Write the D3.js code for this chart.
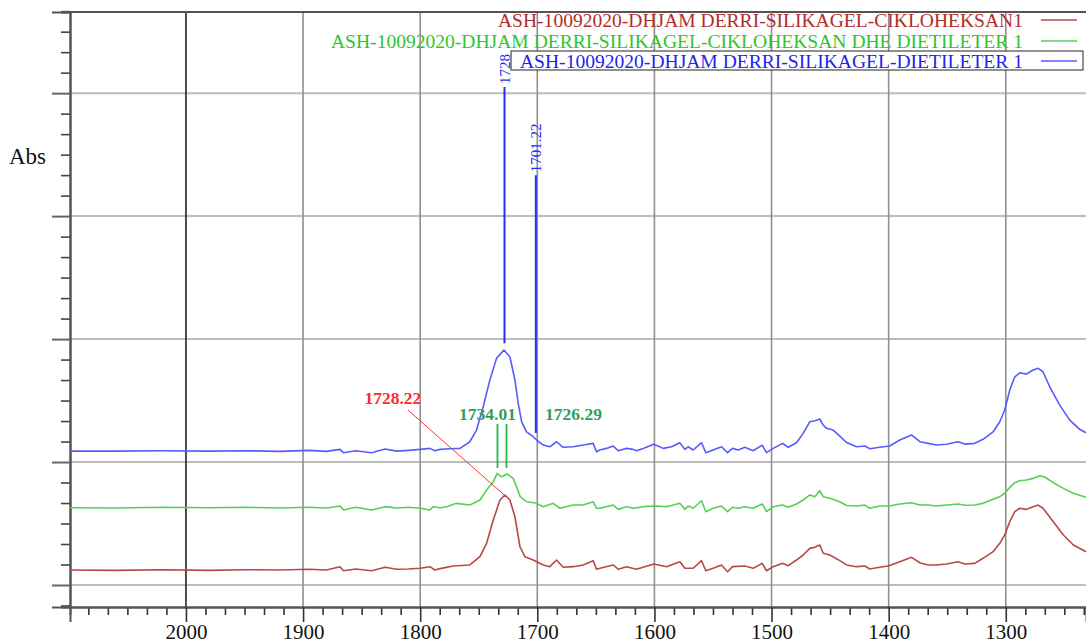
<!DOCTYPE html>
<html><head><meta charset="utf-8">
<script src="https://cdn.jsdelivr.net/npm/d3@7"></script>
<style>body{margin:0;background:#fff} svg{display:block}</style>
</head><body><svg id="c" width="1086" height="644"></svg>
<script>
// ---------- data ----------
const legendNames = [
  "ASH-10092020-DHJAM DERRI-SILIKAGEL-CIKLOHEKSAN1",
  "ASH-10092020-DHJAM DERRI-SILIKAGEL-CIKLOHEKSAN DHE DIETILETER 1",
  "ASH-10092020-DHJAM DERRI-SILIKAGEL-DIETILETER 1"
];
const xTickValues = [2000, 1900, 1800, 1700, 1600, 1500, 1400, 1300];
const xTickLabels = ["2000", "1900", "1800", "1700", "1600", "1500", "1400", "1300"];
const yMajorValues = [0, 1, 2, 3, 4];

// [wavenumber cm-1, absorbance (offset, arbitrary units)]
const redSpectrum = [
  [2099,0.122],[2060,0.119],[2020,0.124],[1980,0.119],[1950,0.124],[1920,0.122],[1895,0.128],[1880,0.122],
  [1868.5,0.149],[1865.5,0.116],[1855,0.130],[1841.5,0.116],[1830,0.144],[1820,0.128],[1810,0.130],[1800,0.136],
  [1791.7,0.149],[1787.4,0.122],[1783,0.133],[1771.8,0.154],[1757.6,0.163],[1749,0.230],[1743.3,0.339],
  [1737.6,0.528],[1731.9,0.691],[1727.6,0.732],[1723.4,0.691],[1719.1,0.555],[1714.8,0.311],[1710.6,0.230],
  [1703.5,0.203],[1694.9,0.163],[1689.3,0.149],[1683.6,0.203],[1677.9,0.144],[1669.4,0.149],[1660.8,0.163],
  [1652.3,0.198],[1649.4,0.128],[1646.6,0.136],[1635.2,0.163],[1630.9,0.128],[1623.8,0.149],[1615.3,0.128],
  [1600.5,0.171],[1589.7,0.149],[1578.3,0.189],[1574.0,0.136],[1566.9,0.136],[1559.8,0.198],[1556.1,0.116],
  [1549.9,0.136],[1542.7,0.163],[1537.6,0.108],[1533.3,0.149],[1522.8,0.154],[1515.7,0.136],[1508.0,0.176],
  [1504.3,0.116],[1498.6,0.149],[1490.6,0.176],[1485.8,0.157],[1478.7,0.203],[1473.0,0.244],[1467.3,0.298],
  [1463.0,0.307],[1458.8,0.325],[1455.9,0.258],[1450.2,0.244],[1441.7,0.198],[1436.0,0.163],[1427.4,0.149],
  [1420.3,0.154],[1416.1,0.130],[1407.6,0.144],[1400.5,0.154],[1390.5,0.189],[1380.5,0.225],[1373.4,0.181],
  [1366.3,0.163],[1359.2,0.163],[1350.6,0.171],[1340.7,0.189],[1335.0,0.171],[1326.5,0.176],[1319.4,0.217],
  [1310.8,0.271],[1305.1,0.339],[1300.9,0.407],[1296.6,0.515],[1292.3,0.596],[1288.1,0.624],[1282.4,0.615],
  [1276.7,0.637],[1272.4,0.650],[1268.2,0.624],[1259.4,0.515],[1250.8,0.407],[1242.3,0.325],[1231.5,0.271]
];
const greenSpectrum = [
  [2099,0.628],[2060,0.626],[2020,0.632],[1980,0.628],[1950,0.632],[1920,0.626],[1895,0.632],[1880,0.626],
  [1868.5,0.642],[1865.5,0.610],[1855,0.632],[1841.5,0.610],[1830,0.637],[1820,0.626],[1810,0.632],[1800,0.624],
  [1791.7,0.610],[1788.9,0.637],[1783,0.628],[1777.5,0.637],[1769,0.664],[1757.6,0.650],[1749,0.691],
  [1743.3,0.772],[1737.6,0.840],[1734.2,0.908],[1730.5,0.880],[1725.7,0.902],[1720.6,0.867],[1717.7,0.799],
  [1714.6,0.718],[1709.2,0.677],[1702.1,0.669],[1694.9,0.637],[1686.4,0.664],[1680.7,0.624],[1669.4,0.650],
  [1660.8,0.650],[1652.3,0.677],[1649.4,0.624],[1646.6,0.624],[1635.2,0.650],[1630.9,0.615],[1623.8,0.637],
  [1618.1,0.624],[1609.6,0.637],[1600.5,0.642],[1589.7,0.637],[1578.3,0.664],[1574.0,0.615],[1571.2,0.642],
  [1566.9,0.624],[1559.8,0.685],[1556.1,0.596],[1549.9,0.624],[1542.7,0.642],[1537.6,0.596],[1533.3,0.632],
  [1528.5,0.624],[1522.8,0.637],[1515.7,0.624],[1508.0,0.659],[1504.3,0.596],[1498.6,0.637],[1490.6,0.650],
  [1485.8,0.632],[1478.7,0.659],[1473.0,0.691],[1467.3,0.732],[1463.0,0.718],[1458.8,0.767],[1455.9,0.718],
  [1450.2,0.705],[1441.7,0.677],[1436.0,0.646],[1427.4,0.642],[1420.3,0.650],[1416.1,0.624],[1407.6,0.642],
  [1399.1,0.642],[1390.5,0.659],[1380.5,0.669],[1373.4,0.650],[1366.3,0.650],[1359.2,0.642],[1350.6,0.650],
  [1340.7,0.659],[1335.0,0.648],[1326.5,0.650],[1319.4,0.664],[1310.8,0.697],[1305.1,0.718],[1300.9,0.746],
  [1296.6,0.794],[1292.3,0.832],[1288.1,0.848],[1282.4,0.854],[1276.7,0.867],[1270.8,0.889],[1266.5,0.876],
  [1259.4,0.832],[1250.8,0.786],[1242.3,0.746],[1231.5,0.713]
];
const blueSpectrum = [
  [2099,1.089],[2060,1.089],[2020,1.092],[1980,1.089],[1950,1.092],[1920,1.087],[1895,1.095],[1880,1.087],
  [1868.5,1.103],[1865.5,1.076],[1855,1.092],[1841.5,1.076],[1830,1.106],[1820,1.089],[1810,1.095],[1800,1.103],
  [1791.7,1.111],[1787.4,1.092],[1783,1.103],[1775,1.108],[1766,1.111],[1757.6,1.165],[1751.9,1.260],
  [1746.2,1.450],[1740.5,1.667],[1734.8,1.843],[1728.5,1.911],[1723.4,1.856],[1719.1,1.667],[1716.3,1.477],
  [1713.4,1.328],[1709.2,1.246],[1703.5,1.206],[1700.6,1.179],[1694.9,1.138],[1689.3,1.124],[1683.6,1.165],
  [1677.9,1.120],[1669.4,1.124],[1660.8,1.138],[1652.3,1.152],[1649.4,1.084],[1646.6,1.098],[1640.9,1.111],
  [1635.2,1.130],[1630.9,1.092],[1623.8,1.111],[1618.1,1.103],[1615.3,1.092],[1609.6,1.111],[1600.5,1.144],
  [1592.5,1.111],[1585.4,1.124],[1578.3,1.157],[1574.0,1.103],[1571.2,1.124],[1566.9,1.098],[1559.8,1.157],
  [1556.1,1.076],[1549.9,1.098],[1542.7,1.124],[1537.6,1.076],[1533.3,1.111],[1528.5,1.098],[1522.8,1.120],
  [1515.7,1.092],[1508.0,1.138],[1504.3,1.076],[1498.6,1.111],[1490.6,1.152],[1485.8,1.120],[1478.7,1.157],
  [1473.0,1.233],[1467.3,1.328],[1463.0,1.336],[1458.8,1.350],[1455.9,1.301],[1453.1,1.274],[1447.4,1.260],
  [1441.7,1.211],[1436.0,1.159],[1427.4,1.124],[1420.3,1.130],[1416.1,1.108],[1407.6,1.120],[1399.1,1.130],
  [1390.5,1.179],[1380.5,1.220],[1373.4,1.165],[1366.3,1.152],[1359.2,1.138],[1350.6,1.144],[1340.7,1.165],
  [1335.0,1.146],[1326.5,1.152],[1319.4,1.185],[1310.8,1.246],[1305.1,1.328],[1300.9,1.423],[1296.6,1.585],
  [1292.3,1.693],[1288.1,1.726],[1282.4,1.715],[1276.7,1.748],[1272.4,1.762],[1268.2,1.734],[1262.5,1.612],
  [1253.9,1.463],[1245.4,1.341],[1236.9,1.266],[1231.5,1.238]
];
const redPeaks = [1728.22];
const redPeakLabels = ["1728.22"];
const greenPeaks = [1734.01, 1726.29];
const greenPeakLabels = ["1734.01", "1726.29"];
const bluePeaks = [1728, 1701.22];
const bluePeakLabels = ["1728", "1701.22"];

// ---------- styles ----------
const serif = "'Liberation Serif','Times New Roman',serif";
const lineColors = ["#b84848", "#55d055", "#5a5aff"];
const legendColors = ["#b32b2b", "#2ec42e", "#2323ee"];

const svg = d3.select("#c");
const L = 70, R = 1086, T = 12, B = 607;
const x = d3.scaleLinear().domain([2099, 1231.5]).range([L, R]);
const y = d3.scaleLinear().domain([-0.179, 4.66]).range([B, T]);

svg.append("defs").append("clipPath").attr("id", "clip")
  .append("rect").attr("x", L).attr("y", T).attr("width", R - L).attr("height", B - T);

// horizontal gridlines
svg.append("g").selectAll("line").data(yMajorValues).join("line")
  .attr("x1", L).attr("x2", R).attr("y1", d => y(d)).attr("y2", d => y(d))
  .attr("stroke", "#bdbdbd").attr("stroke-width", 2);
// vertical gridlines
svg.append("g").selectAll("line").data(xTickValues).join("line")
  .attr("x1", d => x(d)).attr("x2", d => x(d)).attr("y1", T).attr("y2", B)
  .attr("stroke", d => d === 2000 ? "#222" : "#8f8f8f").attr("stroke-width", 1.6);

// top border
svg.append("line").attr("x1", L).attr("x2", R).attr("y1", T).attr("y2", T)
  .attr("stroke", "#555").attr("stroke-width", 2);

// x axis
const xMinor = d3.range(0, 60).map(k => 2100 - k * 100 / 6)
  .filter(v => v <= 2099 && v >= 1231.5 && !xTickValues.some(t => Math.abs(t - v) < 0.5));
const gx = svg.append("g").attr("transform", `translate(0,${B})`);
gx.call(d3.axisBottom(x).tickValues(xMinor).tickSize(8).tickFormat(""));
gx.selectAll(".tick line").attr("stroke", "#333").attr("stroke-width", 1.6);
const gx2 = svg.append("g").attr("transform", `translate(0,${B})`);
gx2.call(d3.axisBottom(x).tickValues(xTickValues).tickSize(15)
  .tickFormat((d, i) => xTickLabels[i]));
gx2.selectAll(".tick line").attr("stroke", "#333").attr("stroke-width", 1.6);
gx2.selectAll(".tick text").attr("font-family", serif).attr("font-size", 21).attr("fill", "#111")
  .attr("y", 32).attr("dy", 0);
[gx, gx2].forEach(g => g.select(".domain").attr("stroke", "#555").attr("stroke-width", 2));

// y axis
const yMinor = d3.range(-1, 29).map(k => k / 6)
  .filter(v => v >= -0.179 && v <= 4.67 && !yMajorValues.some(t => Math.abs(t - v) < 0.01));
const gy = svg.append("g").attr("transform", `translate(${L},0)`);
gy.call(d3.axisLeft(y).tickValues(yMinor).tickSize(9).tickFormat(""));
gy.selectAll(".tick line").attr("stroke", "#444").attr("stroke-width", 1.6);
const gy2 = svg.append("g").attr("transform", `translate(${L},0)`);
gy2.call(d3.axisLeft(y).tickValues(yMajorValues).tickSize(18).tickFormat(""));
gy2.selectAll(".tick line").attr("stroke", "#666").attr("stroke-width", 2);
[gy, gy2].forEach(g => g.select(".domain").attr("stroke", "#555").attr("stroke-width", 2));

svg.append("text").attr("x", 9).attr("y", 164).text("Abs")
  .attr("font-family", serif).attr("font-size", 23).attr("fill", "#111");

// spectra
const line = d3.line().x(d => x(d[0])).y(d => y(d[1]));
const plot = svg.append("g").attr("clip-path", "url(#clip)");
[redSpectrum, greenSpectrum, blueSpectrum].forEach((s, i) => {
  plot.append("path").datum(s).attr("d", line).attr("fill", "none")
    .attr("stroke", lineColors[i]).attr("stroke-width", 1.6).attr("stroke-linejoin", "round");
});

// blue peak annotations
const blueTop = [4.05, 3.333], blueBottom = [1.967, 1.236];
bluePeaks.forEach((p, i) => {
  plot.append("line").attr("x1", x(p)).attr("x2", x(p)).attr("y1", y(blueTop[i])).attr("y2", y(blueBottom[i]))
    .attr("stroke", "#2a2aff").attr("stroke-width", 2);
  svg.append("text").attr("transform", `translate(${x(p)},${y(blueTop[i]) - 3}) rotate(-90)`)
    .attr("text-anchor", "start").attr("dominant-baseline", "central")
    .attr("font-family", serif).attr("font-size", 15).attr("fill", "#2a2aff").text(bluePeakLabels[i]);
});

// green peak annotations
greenPeaks.forEach((p, i) => {
  plot.append("line").attr("x1", x(p)).attr("x2", x(p)).attr("y1", y(1.31)).attr("y2", y(0.951))
    .attr("stroke", "#22bb44").attr("stroke-width", 1.8);
});
svg.append("text").attr("x", x(greenPeaks[0]) - 10).attr("y", y(1.39)).attr("text-anchor", "middle")
  .attr("dominant-baseline", "central").attr("font-family", serif).attr("font-weight", "bold")
  .attr("font-size", 17.5).attr("fill", "#2f9e5c").text(greenPeakLabels[0]);
svg.append("text").attr("x", x(greenPeaks[1]) + 67).attr("y", y(1.39)).attr("text-anchor", "middle")
  .attr("dominant-baseline", "central").attr("font-family", serif).attr("font-weight", "bold")
  .attr("font-size", 17.5).attr("fill", "#2f9e5c").text(greenPeakLabels[1]);

// red peak annotation
const redPeakAbs = 0.732;
plot.append("line").attr("x1", x(1810.5)).attr("y1", y(1.423)).attr("x2", x(redPeaks[0])).attr("y2", y(redPeakAbs))
  .attr("stroke", "#ff3030").attr("stroke-width", 1);
svg.append("text").attr("x", x(1823.3)).attr("y", y(1.52)).attr("text-anchor", "middle")
  .attr("dominant-baseline", "central").attr("font-family", serif).attr("font-weight", "bold")
  .attr("font-size", 17.5).attr("fill", "#ff2a2a").text(redPeakLabels[0]);

// legend
const rowY = [20, 41, 61];
const textRight = 1023;
const textWidths = [525, 692, 503];
svg.append("rect").attr("x", 511).attr("y", 51).attr("width", 572).attr("height", 19)
  .attr("fill", "#fff").attr("stroke", "#222").attr("stroke-width", 1);
legendNames.forEach((n, i) => {
  svg.append("text").attr("x", textRight).attr("y", rowY[i]).attr("text-anchor", "end")
    .attr("dominant-baseline", "central").attr("font-family", serif).attr("font-size", 19.5)
    .attr("fill", legendColors[i]).attr("textLength", textWidths[i]).attr("lengthAdjust", "spacingAndGlyphs")
    .text(n);
  svg.append("line").attr("x1", 1041).attr("x2", 1077).attr("y1", rowY[i]).attr("y2", rowY[i])
    .attr("stroke", lineColors[i]).attr("stroke-width", 1.5);
});
</script></body></html>
